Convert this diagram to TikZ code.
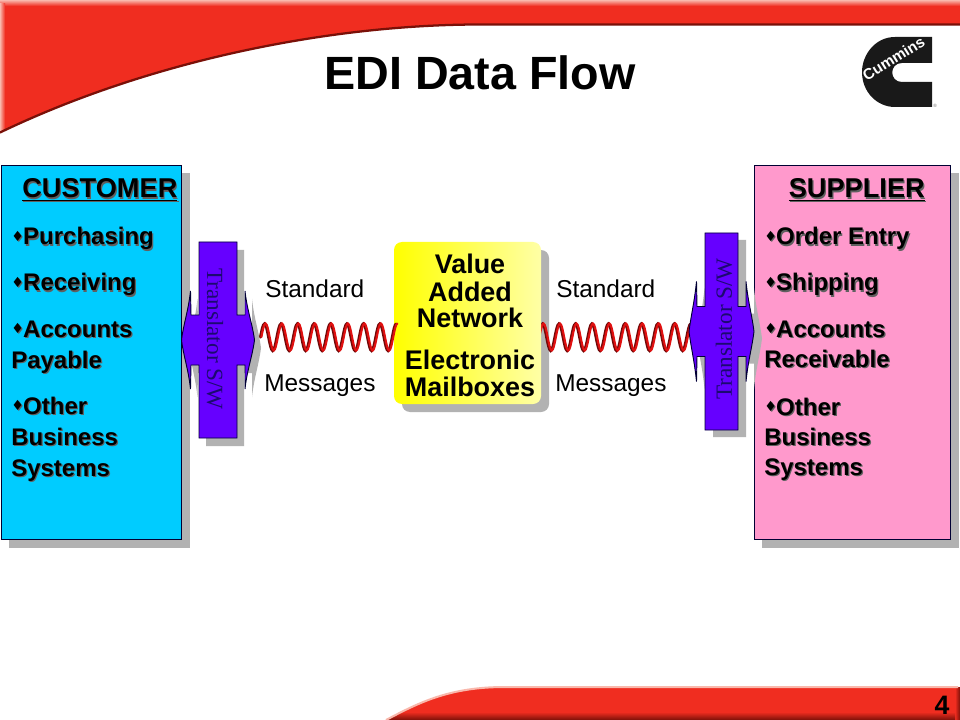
\documentclass[tikz,border=0pt]{standalone}
\usepackage{fontspec}
\setmainfont{Liberation Sans}
\newfontfamily\serifface{Liberation Serif}
\newfontfamily\dejavu{DejaVu Sans}
\usetikzlibrary{decorations}
\definecolor{hdrred}{HTML}{F02D20}
\definecolor{hdrdark}{HTML}{7A1008}
\definecolor{hdrpale}{HTML}{F9B8AC}
\definecolor{shgray}{HTML}{B2B2B2}
\definecolor{txtsh}{HTML}{606060}
\definecolor{custblue}{HTML}{00CCFF}
\definecolor{supppink}{HTML}{FF99CC}
\definecolor{transviolet}{HTML}{6600FF}
\definecolor{transtext}{HTML}{1C0A70}
\definecolor{edgeblk}{HTML}{000033}
\definecolor{wavered}{HTML}{E01010}
\definecolor{wavedark}{HTML}{700808}
\newcommand\shd[1]{\leavevmode\rlap{\kern.9pt\raisebox{-.9pt}{\textcolor{txtsh}{#1}}}#1}
\newcommand\bul{\makebox[8.2pt][c]{\raisebox{2.6pt}{\dejavu\fontsize{10.5}{10.5}\selectfont ♦}}}
\newlength\wl \setlength\wl{12.36pt}
\newlength\wa \setlength\wa{10.1pt}
\pgfdeclaredecoration{sinewave}{rise}{
  \state{rise}[width=.25\wl,next state=fall]{
    \pgfpathcurveto{\pgfpoint{.08\wl}{.5\wa}}{\pgfpoint{.16\wl}{\wa}}{\pgfpoint{.25\wl}{\wa}}}
  \state{fall}[width=.5\wl,next state=climb]{
    \pgfpathcurveto{\pgfpoint{.182\wl}{\wa}}{\pgfpoint{.318\wl}{-\wa}}{\pgfpoint{.5\wl}{-\wa}}}
  \state{climb}[width=.5\wl,next state=fall]{
    \pgfpathcurveto{\pgfpoint{.182\wl}{-\wa}}{\pgfpoint{.318\wl}{\wa}}{\pgfpoint{.5\wl}{\wa}}}
  \state{final}{}
}
\tikzset{
  sidebox/.style={draw=edgeblk,line width=0.7pt,inner sep=0pt,minimum height=280.5pt},
  itemtext/.style={anchor=base west,inner sep=0pt,font=\bfseries\fontsize{18}{18}\selectfont},
  headtext/.style={anchor=base west,inner sep=0pt,font=\bfseries\fontsize{20.4}{20.4}\selectfont},
  nettext/.style={anchor=base,inner sep=0pt,font=\bfseries\fontsize{20.2}{20.2}\selectfont},
  msgtext/.style={anchor=base west,inner sep=0pt,font=\fontsize{18.3}{18.3}\selectfont},
  transtxt/.style={inner sep=0pt,text=transtext,font=\serifface\fontsize{17.4}{17.4}\selectfont},
  transfill/.style={fill=transviolet,draw=edgeblk,line width=0.7pt,line join=miter},
  wavebase/.style={decorate,decoration={sinewave},line cap=round},
  wavelo/.style={wavebase,draw=wavedark,line width=2.1pt},
  wavehi/.style={wavebase,draw=wavered,line width=1.6pt},
}
% cross with arrow outline: centre x, centre y, half height, rect half width, spike x, tip x, spike y
\newcommand\transpath[7]{%
  (#1-#4,#2-#3) -- (#1+#4,#2-#3) -- (#1+#4,#2-25) -- (#1+#5,#2-25) -- (#1+#5,#2-#7)
  .. controls (#1+#5+2,#2-30) and (#1+#6-2,#2-16) .. (#1+#6,#2)
  .. controls (#1+#6-2,#2+16) and (#1+#5+2,#2+30) .. (#1+#5,#2+#7)
  -- (#1+#5,#2+25) -- (#1+#4,#2+25) -- (#1+#4,#2+#3) -- (#1-#4,#2+#3) -- (#1-#4,#2+25) -- (#1-#5,#2+25) -- (#1-#5-0.5,#2+#7)
  .. controls (#1-#5-2.5,#2+30) and (#1-#6+2,#2+16) .. (#1-#6,#2)
  .. controls (#1-#6+2,#2-16) and (#1-#5-2.5,#2-30) .. (#1-#5-0.5,#2-#7)
  -- (#1-#5,#2-25) -- (#1-#4,#2-25) -- cycle}
\begin{document}
\begin{tikzpicture}[x=0.75pt,y=-0.75pt]
\useasboundingbox (0,0) rectangle (960,720);
\fill[white] (0,0) rectangle (960,720);
% header band
\begin{scope}
\clip (0,0) -- (960,0) -- (960,24) -- (480,24) .. controls (330,24) and (150,60) .. (0,132) -- cycle;
\fill[hdrred] (0,0) rectangle (960,140);
\shade[top color=hdrpale,bottom color=hdrred] (0,0) rectangle (960,6);
\shade[left color=hdrpale,right color=hdrred] (0,4) rectangle (5,140);
\end{scope}
\draw[hdrdark,line width=1.7pt] (960,24.5) -- (480,24.5) .. controls (330,24.5) and (150,60.5) .. (0,132.5);
% footer band
\begin{scope}
\clip (386,720) .. controls (420,702) and (450,687) .. (505,687) -- (960,687) -- (960,720) -- cycle;
\fill[hdrred] (380,685) rectangle (960,720);
\shade[left color=hdrred,right color=hdrdark] (955,685) rectangle (960,720);
\shade[top color=hdrred,bottom color=hdrdark] (380,712) rectangle (955,720);
\end{scope}
\draw[hdrpale,line width=1.5pt] (386,720) .. controls (420,702) and (450,687) .. (505,687) -- (958,687);
\node[anchor=base,inner sep=0pt,font=\bfseries\fontsize{20}{20}\selectfont] (pagenum) at (942,714) {4};
% title
\node[anchor=base,inner sep=0pt,font=\bfseries\fontsize{35}{35}\selectfont] (title) at (480,90) {EDI Data Flow};
% logo
\fill[black!90] (932,37) -- (922,37) -- (895,37) .. controls (875,37) and (862,55) .. (862,72) .. controls (862,92) and (877,107) .. (895,107) -- (932,107) -- (932,82) -- (902,82) .. controls (889,82) and (889,63) .. (902,63) -- (932,63) -- cycle;
\node[rotate=32,inner sep=0pt,text=white,font=\bfseries\fontsize{11.5}{11.5}\selectfont] (logotext) at (893.5,58.5) {Cummins};
\node[inner sep=0pt,text=black!60,font=\fontsize{3.5}{3.5}\selectfont] (logomark) at (935,105.5) {®};
% side boxes
\fill[shgray] (9,173) rectangle (190,548);
\fill[shgray] (762,173) rectangle (959,548);
\node[sidebox,fill=custblue,minimum width=135pt] (customer) at (91.5,352.5) {};
\node[sidebox,fill=supppink,minimum width=147pt] (supplier) at (852.5,352.5) {};
% customer text
\node[headtext] (custhead) at (22,198) {\shd{\underline{CUSTOMER}}};
\node[itemtext] (c1) at (12,245) {\shd{\bul Purchasing}};
\node[itemtext] (c2) at (12,291) {\shd{\bul Receiving}};
\node[itemtext] (c3) at (12,337) {\shd{\bul Accounts}};
\node[itemtext] (c3b) at (11,368) {\shd{Payable}};
\node[itemtext] (c4) at (12,414) {\shd{\bul Other}};
\node[itemtext] (c4b) at (11,445) {\shd{Business}};
\node[itemtext] (c4c) at (11,476) {\shd{Systems}};
% supplier text
\node[headtext] (supphead) at (788.5,198) {\shd{\underline{SUPPLIER}}};
\node[itemtext] (s1) at (765,245) {\shd{\bul Order Entry}};
\node[itemtext] (s2) at (765,291) {\shd{\bul Shipping}};
\node[itemtext] (s3) at (765,337) {\shd{\bul Accounts}};
\node[itemtext] (s3b) at (764,367) {\shd{Receivable}};
\node[itemtext] (s4) at (765,415) {\shd{\bul Other}};
\node[itemtext] (s4b) at (764,445) {\shd{Business}};
\node[itemtext] (s4c) at (764,475) {\shd{Systems}};
% network box
\fill[shgray,rounded corners=6pt] (402,250) rectangle (549,412);
\coordinate (wr1) at (539,337);
\coordinate (wr2) at (696,337);
\draw[wavelo] ([xshift=-.5pt,yshift=-.2pt]wr1) -- ([xshift=-.5pt,yshift=-.2pt]wr2);
\draw[wavehi] ([xshift=.3pt]wr1) -- ([xshift=.3pt]wr2);
\node[inner sep=0pt,minimum width=110.25pt,minimum height=121.5pt,rounded corners=6pt,left color=yellow,right color=yellow!35!white] (network) at (467.5,323) {};
\node[nettext] (n1) at (470,274) {Value};
\node[nettext] (n2) at (470,301) {Added};
\node[nettext] (n3) at (470,327) {Network};
\node[nettext] (n4) at (470,369) {Electronic};
\node[nettext] (n5) at (470,396) {Mailboxes};
% left wave
\coordinate (wl1) at (261,337);
\coordinate (wl2) at (398,337);
\draw[wavelo] ([xshift=-.5pt,yshift=-.2pt]wl1) -- ([xshift=-.5pt,yshift=-.2pt]wl2);
\draw[wavehi] ([xshift=.3pt]wl1) -- ([xshift=.3pt]wl2);
% wave labels
\node[msgtext] (std1) at (265,297) {Standard};
\node[msgtext] (msg1) at (264,391) {Messages};
\node[msgtext] (std2) at (556,297) {Standard};
\node[msgtext] (msg2) at (555,391) {Messages};
% translators
\fill[shgray] \transpath{225}{348}{98}{19}{27}{36}{49};
\draw[transfill] \transpath{218}{340}{98}{19}{27}{36.5}{49};
\node[transtxt,rotate=-90] (transL) at (215,339) {Translator S/W};
\fill[shgray] \transpath{729.5}{338.5}{98.5}{16.5}{24.5}{32.5}{50};
\draw[transfill] \transpath{721.5}{331.5}{98.5}{16.5}{24.5}{32.5}{50};
\node[transtxt,rotate=90] (transR) at (724,329) {Translator S/W};
\end{tikzpicture}
\end{document}
